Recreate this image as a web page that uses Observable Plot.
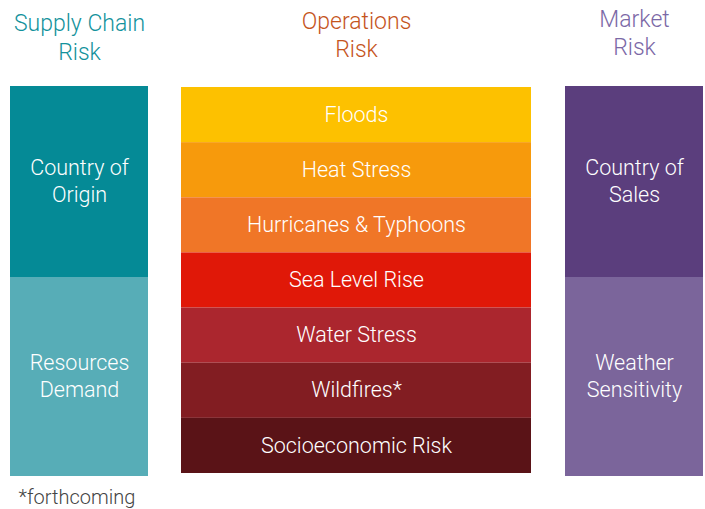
<!DOCTYPE html>
<html>
<head>
<meta charset="utf-8">
<script src="https://cdn.jsdelivr.net/npm/d3@7"></script>
<script src="https://cdn.jsdelivr.net/npm/@observablehq/plot@0.6"></script>
<style>
  html, body { margin: 0; padding: 0; background: #fff; }
  #chart { width: 705px; height: 509px; }
  svg text { font-family: Roboto, "Open Sans", sans-serif; }
</style>
</head>
<body>
<div id="chart"></div>
<script>
// ---- data ----
const groups = ["Supply Chain\nRisk", "Operations\nRisk", "Market\nRisk"];
const supplyItems = ["Country of\nOrigin", "Resources\nDemand"];
const operationsItems = ["Floods", "Heat Stress", "Hurricanes & Typhoons", "Sea Level Rise", "Water Stress", "Wildfires*", "Socioeconomic Risk"];
const marketItems = ["Country of\nSales", "Weather\nSensitivity"];
const footnote = "*forthcoming";

// ---- styles ----
const groupColors = ["#13929c", "#c5541c", "#7b68a6"];
const supplyColors = ["#058a96", "#57adb7"];
const operationsColors = ["#fdc100", "#f79a0c", "#f07627", "#e01808", "#ab262e", "#821d22", "#5a1317"];
const marketColors = ["#5b3e7d", "#7b659b"];

// ---- layout (pixel frame) ----
const W = 705, H = 509;
const colX = [[10, 148], [181, 531], [565, 703]];
const sideY = [86, 277, 476];
const midY = [87, 473];
const titleY = [36, 33.5, 31.5];

const rows = [];
[[supplyItems, supplyColors, 0], [marketItems, marketColors, 2]].forEach(([items, colors, c]) => {
  items.forEach((label, i) => {
    rows.push({label, fill: colors[i], x1: colX[c][0], x2: colX[c][1], y1: sideY[i], y2: sideY[i + 1]});
  });
});
const step = (midY[1] - midY[0]) / operationsItems.length;
operationsItems.forEach((label, i) => {
  rows.push({label, fill: operationsColors[i], x1: colX[1][0], x2: colX[1][1],
             y1: midY[0] + i * step, y2: midY[0] + (i + 1) * step});
});

const titles = groups.map((label, i) => ({label, color: groupColors[i], x: (colX[i][0] + colX[i][1]) / 2, y: titleY[i]}));

const chart = Plot.plot({
  width: W,
  height: H,
  margin: 0,
  x: {domain: [0, W], range: [0, W], axis: null},
  y: {domain: [0, H], range: [0, H], axis: null},
  marks: [
    Plot.rect(rows, {x1: "x1", x2: "x2", y1: "y1", y2: "y2", fill: d => d.fill}),
    Plot.text(rows, {
      x: d => (d.x1 + d.x2) / 2,
      y: d => (d.y1 + d.y2) / 2 - 2,
      text: "label",
      fill: "white",
      fontSize: 21.5,
      fontWeight: 300,
      lineHeight: 1.26,
      lineAnchor: "middle"
    }),
    Plot.text(titles, {
      x: "x", y: "y", text: "label", fill: d => d.color,
      fontSize: 23, fontWeight: 300, lineHeight: 1.23, lineAnchor: "middle"
    }),
    Plot.text([footnote], {
      x: 18, y: 503, text: d => d, fill: "#444", fontSize: 20, fontWeight: 300,
      textAnchor: "start", lineAnchor: "bottom"
    })
  ]
});

document.getElementById("chart").appendChild(chart);
</script>
</body>
</html>
